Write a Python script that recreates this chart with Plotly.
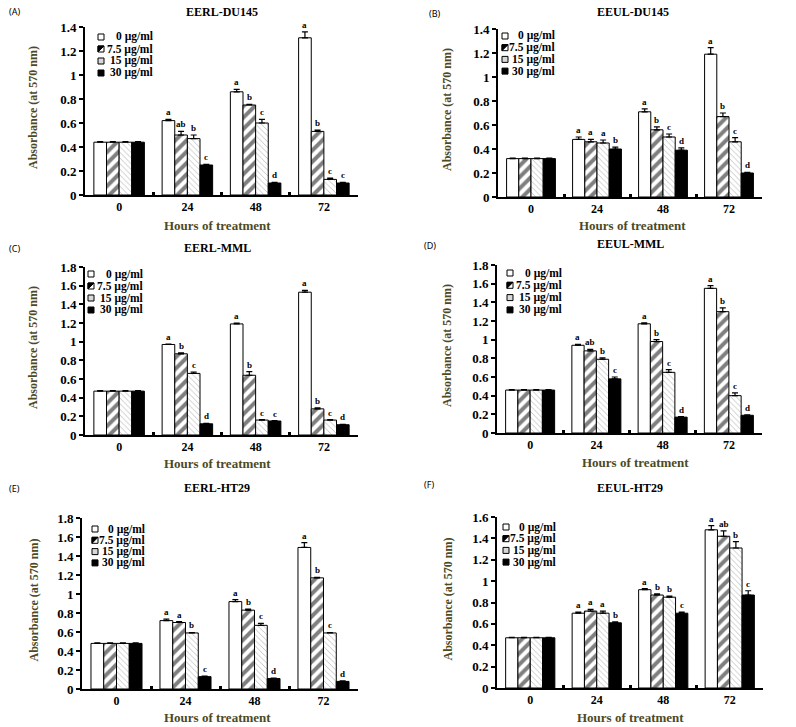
import plotly.graph_objects as go

W, H = 796, 727

hours = ["0", "24", "48", "72"]
doses = ["0 µg/ml", "7.5 µg/ml", "15 µg/ml", "30 µg/ml"]
titles = ["EERL-DU145", "EEUL-DU145", "EERL-MML", "EEUL-MML", "EERL-HT29", "EEUL-HT29"]
labels = ["(A)", "(B)", "(C)", "(D)", "(E)", "(F)"]

# values[dose][hour]
A_vals = [[0.44, 0.62, 0.86, 1.31], [0.44, 0.50, 0.75, 0.53], [0.44, 0.47, 0.60, 0.13], [0.44, 0.25, 0.10, 0.10]]
A_errs = [[0.005, 0.01, 0.02, 0.05], [0.005, 0.03, 0.005, 0.01], [0.005, 0.03, 0.03, 0.01], [0.005, 0.005, 0.005, 0.005]]
A_lets = [["", "a", "a", "a"], ["", "ab", "b", "b"], ["", "b", "c", "c"], ["", "c", "d", "c"]]

B_vals = [[0.32, 0.48, 0.71, 1.19], [0.32, 0.46, 0.56, 0.67], [0.32, 0.45, 0.50, 0.46], [0.32, 0.40, 0.39, 0.20]]
B_errs = [[0.005, 0.02, 0.025, 0.055], [0.005, 0.02, 0.025, 0.03], [0.005, 0.025, 0.025, 0.035], [0.005, 0.015, 0.02, 0.005]]
B_lets = [["", "a", "a", "a"], ["", "a", "b", "b"], ["", "a", "c", "c"], ["", "b", "d", "d"]]

C_vals = [[0.47, 0.97, 1.19, 1.53], [0.47, 0.87, 0.64, 0.28], [0.47, 0.66, 0.16, 0.16], [0.47, 0.12, 0.15, 0.11]]
C_errs = [[0.005, 0.005, 0.01, 0.02], [0.005, 0.01, 0.04, 0.01], [0.005, 0.015, 0.005, 0.005], [0.005, 0.005, 0.005, 0.005]]
C_lets = [["", "a", "a", "a"], ["", "b", "b", "b"], ["", "c", "c", "c"], ["", "d", "c", "d"]]

D_vals = [[0.46, 0.94, 1.17, 1.55], [0.46, 0.88, 0.98, 1.30], [0.46, 0.79, 0.65, 0.40], [0.46, 0.58, 0.17, 0.19]]
D_errs = [[0.005, 0.01, 0.01, 0.03], [0.005, 0.015, 0.02, 0.04], [0.005, 0.015, 0.03, 0.03], [0.005, 0.02, 0.005, 0.005]]
D_lets = [["", "a", "a", "a"], ["", "ab", "b", "b"], ["", "b", "c", "c"], ["", "c", "d", "d"]]

E_vals = [[0.48, 0.72, 0.92, 1.49], [0.48, 0.70, 0.83, 1.17], [0.48, 0.59, 0.67, 0.59], [0.48, 0.13, 0.11, 0.08]]
E_errs = [[0.005, 0.015, 0.02, 0.05], [0.005, 0.01, 0.01, 0.005], [0.005, 0.005, 0.02, 0.005], [0.005, 0.005, 0.005, 0.005]]
E_lets = [["", "a", "a", "a"], ["", "a", "b", "b"], ["", "b", "c", "c"], ["", "c", "d", "d"]]

F_vals = [[0.47, 0.70, 0.92, 1.48], [0.47, 0.72, 0.87, 1.42], [0.47, 0.70, 0.85, 1.31], [0.47, 0.61, 0.70, 0.87]]
F_errs = [[0.005, 0.01, 0.01, 0.04], [0.005, 0.015, 0.01, 0.05], [0.005, 0.02, 0.01, 0.06], [0.005, 0.01, 0.01, 0.04]]
F_lets = [["", "a", "a", "a"], ["", "a", "b", "ab"], ["", "a", "b", "b"], ["", "b", "c", "c"]]

y_max = [1.4, 1.4, 1.8, 1.8, 1.8, 1.6]

panels = [(A_vals, A_errs, A_lets), (B_vals, B_errs, B_lets), (C_vals, C_errs, C_lets),
          (D_vals, D_errs, D_lets), (E_vals, E_errs, E_lets), (F_vals, F_errs, F_lets)]

# ---------- layout geometry (pixels) ----------
# (x_left, x_right, y_top, y_bottom)
boxes = [(85, 358, 27, 195), (498, 762, 29, 197),
         (85, 358, 267, 435), (497, 762, 265, 433),
         (82, 358, 518, 689), (497, 763, 517, 688)]
title_pos = [(222, 12), (633, 12), (217, 248), (630, 244), (217, 488), (630, 488)]
label_pos = [(7, 12), (427, 13), (7, 248), (422, 245), (7, 488), (422, 484)]
xtitle_pos = [(217, 225), (632, 225), (217, 463), (635, 462), (217, 717), (630, 717)]
ytitle_x = [33, 447, 33, 447, 33, 447]
# legend: symbol x, first row y, row step, text right edge
leg = [(98, 37, 12, 155), (502, 36, 11.7, 557), (88, 274, 12, 145),
       (507, 273, 12.3, 564), (92, 529, 11.3, 147), (503, 527, 11.7, 558)]

OLIVE = "#4d4a1f"
SERIF = "Liberation Serif"
SANS = "Noto Sans"

def px(x):
    return x / W

def py(y):
    return 1 - y / H

fill_colors = ["white", "white", "white", "black"]
patterns = [
    dict(shape=""),
    dict(shape="/", fgcolor="black", bgcolor="white", size=8, solidity=0.5),
    dict(shape="\\", fgcolor="#707070", bgcolor="white", size=4, solidity=0.2),
    dict(shape=""),
]

bargap = 0.26
bw = (1 - bargap) / 4
offsets = [-(1 - bargap) / 2 + bw * (i + 0.5) for i in range(4)]

fig = go.Figure()
annotations = []
shapes = []
layout = {}

def note(x, y, text, font, xanchor="center", yanchor="middle", **kw):
    annotations.append(dict(x=x, y=y, xref="paper", yref="paper", text=text, showarrow=False,
                            xanchor=xanchor, yanchor=yanchor, font=font, **kw))

for p, (vals, errs, lets) in enumerate(panels):
    ax = "" if p == 0 else str(p + 1)
    xa, ya = "x" + ax, "y" + ax
    x0, x1, yt, yb = boxes[p]
    for d in range(4):
        fig.add_trace(go.Bar(
            x=list(range(len(hours))), y=vals[d], name=doses[d],
            xaxis=xa, yaxis=ya, showlegend=False,
            marker=dict(color=fill_colors[d], pattern=patterns[d],
                        line=dict(color="black", width=1)),
            error_y=dict(type="data", symmetric=False, array=errs[d],
                         arrayminus=[0] * len(hours), color="black",
                         thickness=1.2, width=3),
        ))
        for h in range(len(hours)):
            if lets[d][h]:
                annotations.append(dict(
                    x=h + offsets[d], y=vals[d][h] + errs[d][h], xref=xa, yref=ya,
                    text=lets[d][h], showarrow=False, xanchor="center", yanchor="bottom", yshift=0,
                    font=dict(family=SERIF, size=9, color="black", weight="bold")))
    layout["xaxis" + ax] = dict(
        domain=[px(x0), px(x1)], anchor=ya, range=[-0.5, 3.5],
        tickvals=list(range(len(hours))), ticktext=hours, ticks="",
        showline=True, linecolor="black", linewidth=2, showgrid=False, zeroline=False,
        tickfont=dict(family=SERIF, size=12, color="black", weight="bold"),
        minor=dict(tickvals=[0.5, 1.5, 2.5], ticks="inside", ticklen=3,
                   tickwidth=3, tickcolor="black"),
    )
    layout["yaxis" + ax] = dict(
        domain=[py(yb), py(yt)], anchor=xa, range=[0, y_max[p]], dtick=0.2,
        showline=True, linecolor="black", linewidth=2, showgrid=False, zeroline=False,
        ticks="outside", ticklen=4, tickwidth=1.5, tickcolor="black",
        tickfont=dict(family=SERIF, size=13, color="black", weight="bold"),
    )
    tx, ty = title_pos[p]
    note(px(tx), py(ty), titles[p], dict(family=SERIF, size=12, color="black", weight="bold"))
    lx, ly = label_pos[p]
    note(px(lx), py(ly), labels[p], dict(family=SANS, size=9, color="black"), xanchor="left")
    hx, hy = xtitle_pos[p]
    note(px(hx), py(hy), "Hours of treatment", dict(family=SERIF, size=13, color=OLIVE, weight="bold"))
    note(px(ytitle_x[p]), py((yt + yb) / 2 - 3), "Absorbance (at 570 nm)",
         dict(family=SERIF, size=12, color=OLIVE, weight="bold"), textangle=-90)
    # legend (drawn compactly, as in the original)
    sx, sy0, sdy, tr = leg[p]
    s = 6
    for d in range(4):
        cy = sy0 + sdy * d
        ya0, ya1 = py(cy + s / 2), py(cy - s / 2)
        xa0, xa1 = px(sx), px(sx + s)
        fc = {0: "white", 1: "white", 2: "#d8d8d8", 3: "black"}[d]
        shapes.append(dict(type="rect", xref="paper", yref="paper", x0=xa0, x1=xa1, y0=ya0, y1=ya1,
                           line=dict(color="black", width=1), fillcolor=fc, layer="above"))
        if d == 1:
            shapes.append(dict(type="path", xref="paper", yref="paper",
                               path=f"M {xa0},{ya0} L {xa1},{ya1} L {xa0},{ya1} Z",
                               line=dict(color="black", width=1), fillcolor="black", layer="above"))
        note(px(tr), py(cy), doses[d], dict(family=SERIF, size=11.5, color="black", weight="bold"),
             xanchor="right")

fig.update_layout(
    width=W, height=H, margin=dict(l=0, r=0, t=0, b=0, pad=0, autoexpand=False),
    paper_bgcolor="white", plot_bgcolor="white",
    barmode="group", bargap=bargap, bargroupgap=0,
    showlegend=False, annotations=annotations, shapes=shapes, **layout,
)

fig.write_html("out.html", config={"displayModeBar": False},
               post_script="document.body.style.margin='0';document.body.style.overflow='hidden';")
